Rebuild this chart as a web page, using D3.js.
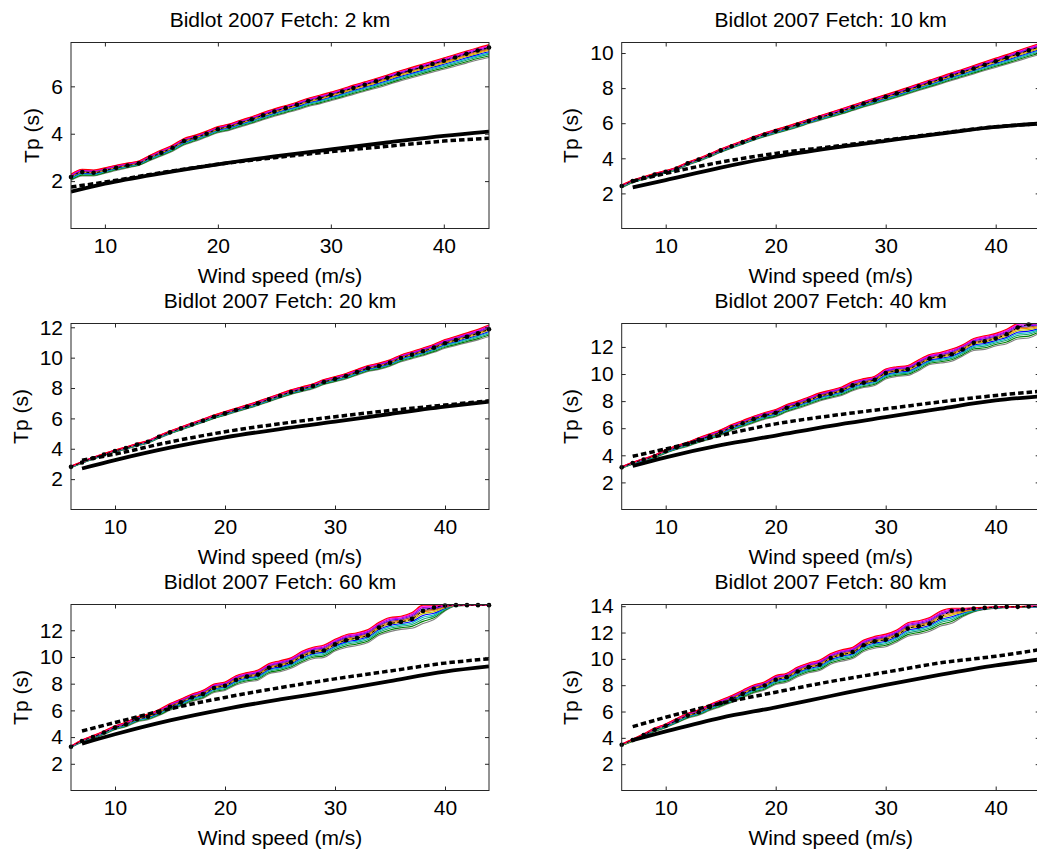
<!DOCTYPE html>
<html><head><meta charset="utf-8">
<script src="https://cdn.jsdelivr.net/npm/d3@7"></script>
<style>
html,body{margin:0;padding:0;background:#fff;}
svg{display:block;font-family:"Liberation Sans",Arial,Helvetica,sans-serif;}
</style></head><body>
<svg id="chart" width="1037" height="852"></svg>
<script>
// ---------------- data ----------------
const fetchKm = [2, 10, 20, 40, 60, 80];
const windFrom7 = [7,8,9,10,11,12,13,14,15,16,17,18,19,20,21,22,23,24,25,26,27,28,29,30,31,32,33,34,35,36,37,38,39,40,41,42,43,44];
const windFrom6 = [6,7,8,9,10,11,12,13,14,15,16,17,18,19,20,21,22,23,24,25,26,27,28,29,30,31,32,33,34,35,36,37,38,39,40,41,42,43,44];
const thickWind = [7,10,15,20,25,30,35,40,44];
const xTicks = [10,20,30,40];
const yMaxes = [7.85, 10.6, 12.25, 13.73, 13.93, 14.13];
const yTicks2km = [2,4,6];
const yTicks10km = [2,4,6,8,10];
const yTicks20km = [2,4,6,8,10,12];
const yTicks40km = [2,4,6,8,10,12];
const yTicks60km = [2,4,6,8,10,12];
const yTicks80km = [2,4,6,8,10,12,14];

// ensemble mean Tp (black dashed line with dots)
const mean2km = [2.17,2.38,2.35,2.45,2.56,2.66,2.75,2.99,3.20,3.41,3.69,3.83,4.00,4.19,4.30,4.46,4.61,4.78,4.94,5.08,5.22,5.38,5.50,5.64,5.78,5.93,6.07,6.21,6.36,6.52,6.66,6.80,6.94,7.08,7.22,7.37,7.51,7.64];
const mean10km = [2.42,2.70,2.89,3.08,3.23,3.42,3.71,3.93,4.18,4.45,4.69,4.92,5.15,5.36,5.55,5.73,5.92,6.13,6.32,6.51,6.70,6.91,7.12,7.31,7.50,7.70,7.90,8.11,8.31,8.51,8.72,8.92,9.12,9.33,9.53,9.73,9.94,10.15,10.35];
const mean20km = [2.81,3.10,3.38,3.62,3.85,4.05,4.27,4.46,4.79,5.08,5.34,5.60,5.85,6.11,6.33,6.55,6.77,6.99,7.25,7.49,7.74,7.93,8.13,8.40,8.59,8.79,9.05,9.30,9.45,9.67,9.98,10.20,10.42,10.66,10.95,11.16,11.38,11.60,11.87];
const mean40km = [3.11,3.43,3.68,3.93,4.30,4.59,4.84,5.14,5.41,5.70,6.07,6.37,6.67,6.94,7.14,7.51,7.75,8.05,8.37,8.54,8.79,9.16,9.36,9.58,10.07,10.22,10.35,10.72,11.14,11.31,11.46,11.81,12.30,12.42,12.62,12.94,13.43,13.66,13.75];
const mean60km = [3.28,3.71,4.01,4.34,4.71,4.96,5.34,5.52,5.85,6.27,6.60,6.97,7.22,7.68,7.85,8.28,8.53,8.68,9.19,9.36,9.61,10.04,10.37,10.49,10.94,11.25,11.42,11.62,12.20,12.50,12.63,12.85,13.45,13.70,13.85,13.88,13.88,13.88,13.88];
const mean80km = [3.48,3.83,4.21,4.62,4.92,5.31,5.69,5.94,6.32,6.63,6.96,7.34,7.72,7.98,8.41,8.61,9.04,9.37,9.55,10.06,10.31,10.52,11.03,11.33,11.46,11.79,12.30,12.48,12.68,13.14,13.65,13.75,13.82,13.87,13.92,13.95,13.95,13.98,13.98];

// ensemble envelope: distance of the top / bottom member from the mean
const hi2km = [0.12,0.12,0.12,0.11,0.11,0.10,0.10,0.10,0.11,0.11,0.11,0.11,0.11,0.11,0.11,0.11,0.11,0.11,0.11,0.11,0.11,0.12,0.12,0.12,0.12,0.12,0.12,0.12,0.12,0.12,0.12,0.12,0.12,0.12,0.12,0.12,0.12,0.12];
const lo2km = [0.15,0.16,0.13,0.12,0.11,0.10,0.09,0.12,0.14,0.15,0.17,0.15,0.14,0.15,0.16,0.17,0.18,0.19,0.20,0.21,0.22,0.23,0.24,0.25,0.26,0.27,0.28,0.29,0.30,0.31,0.32,0.33,0.34,0.36,0.37,0.39,0.40,0.42];
const hi10km = [0.06,0.06,0.06,0.06,0.07,0.07,0.07,0.07,0.08,0.08,0.08,0.08,0.09,0.09,0.09,0.09,0.10,0.10,0.11,0.11,0.12,0.12,0.12,0.13,0.13,0.13,0.14,0.14,0.15,0.15,0.16,0.16,0.17,0.17,0.18,0.18,0.19,0.19,0.20];
const lo10km = [0.10,0.09,0.08,0.08,0.08,0.09,0.09,0.10,0.10,0.11,0.11,0.12,0.12,0.13,0.14,0.14,0.15,0.15,0.16,0.17,0.18,0.19,0.20,0.21,0.22,0.23,0.24,0.25,0.26,0.27,0.28,0.30,0.31,0.33,0.35,0.37,0.39,0.41,0.43];
const hi20km = [0.05,0.05,0.06,0.06,0.07,0.07,0.08,0.08,0.09,0.09,0.10,0.10,0.11,0.11,0.12,0.12,0.12,0.13,0.13,0.14,0.14,0.15,0.15,0.16,0.16,0.17,0.17,0.18,0.19,0.19,0.20,0.21,0.22,0.23,0.24,0.25,0.26,0.27,0.28];
const lo20km = [0.06,0.06,0.07,0.07,0.08,0.08,0.09,0.09,0.10,0.10,0.11,0.11,0.12,0.12,0.13,0.13,0.14,0.14,0.15,0.15,0.16,0.16,0.17,0.17,0.18,0.19,0.20,0.21,0.22,0.23,0.25,0.27,0.29,0.31,0.33,0.36,0.39,0.43,0.47];
const hi40km = [0.05,0.06,0.08,0.10,0.12,0.12,0.14,0.16,0.18,0.18,0.20,0.20,0.22,0.22,0.24,0.24,0.25,0.26,0.24,0.28,0.26,0.28,0.30,0.26,0.30,0.32,0.28,0.34,0.30,0.30,0.38,0.36,0.32,0.40,0.38,0.36,0.30,0.15,0.02];
const lo40km = [0.06,0.08,0.10,0.12,0.14,0.16,0.18,0.20,0.22,0.24,0.24,0.26,0.28,0.28,0.30,0.32,0.30,0.34,0.36,0.32,0.38,0.40,0.36,0.42,0.44,0.40,0.46,0.48,0.44,0.50,0.52,0.48,0.56,0.60,0.55,0.70,0.85,1.00,0.70];
const hi60km = [0.05,0.08,0.10,0.12,0.14,0.16,0.18,0.20,0.22,0.24,0.26,0.26,0.28,0.30,0.28,0.32,0.30,0.34,0.32,0.36,0.34,0.38,0.36,0.40,0.38,0.42,0.40,0.44,0.40,0.46,0.42,0.48,0.43,0.18,0.05,0.02,0.02,0.02,0.02];
const lo60km = [0.06,0.10,0.12,0.14,0.16,0.18,0.20,0.22,0.24,0.26,0.28,0.30,0.32,0.34,0.36,0.38,0.40,0.42,0.44,0.46,0.46,0.48,0.50,0.52,0.50,0.54,0.56,0.54,0.58,0.60,0.56,0.70,0.95,0.90,0.40,0.05,0.02,0.02,0.02];
const hi80km = [0.05,0.08,0.10,0.12,0.14,0.16,0.18,0.20,0.22,0.24,0.26,0.28,0.30,0.28,0.32,0.30,0.34,0.32,0.36,0.34,0.38,0.36,0.40,0.38,0.42,0.40,0.44,0.42,0.46,0.50,0.20,0.10,0.06,0.04,0.03,0.02,0.02,0.02,0.02];
const lo80km = [0.06,0.10,0.12,0.14,0.16,0.18,0.20,0.22,0.24,0.26,0.28,0.30,0.32,0.34,0.36,0.38,0.40,0.42,0.44,0.46,0.48,0.50,0.48,0.52,0.54,0.52,0.58,0.60,0.58,0.65,0.95,0.55,0.25,0.12,0.08,0.05,0.04,0.03,0.03];

// thick black solid and thick black dashed curves
const solid2km = [1.55,1.89,2.33,2.71,3.04,3.34,3.63,3.91,4.09];
const dash2km  = [1.75,1.96,2.36,2.71,2.99,3.24,3.47,3.69,3.81];
const solid10km = [2.34,2.76,3.47,4.09,4.58,5.00,5.41,5.79,5.98];
const dash10km  = [2.70,3.14,3.78,4.28,4.66,5.04,5.43,5.80,5.97];
const solid20km = [2.70,3.25,4.07,4.75,5.30,5.78,6.29,6.77,7.10];
const dash20km  = [3.25,3.65,4.45,5.12,5.65,6.11,6.52,6.88,7.16];
const solid40km = [3.21,3.85,4.75,5.46,6.18,6.81,7.45,8.05,8.35];
const dash40km  = [3.93,4.47,5.47,6.32,6.92,7.43,7.95,8.42,8.72];
const solid60km = [3.51,4.21,5.25,6.10,6.82,7.48,8.20,8.90,9.29];
const dash60km  = [4.46,5.09,6.12,6.97,7.70,8.36,8.95,9.54,9.86];
const solid80km = [3.83,4.49,5.52,6.32,7.18,8.03,8.80,9.50,9.96];
const dash80km  = [4.85,5.56,6.62,7.47,8.28,8.99,9.70,10.20,10.70];

// ensemble member colours and their position across the envelope (0 = bottom, 1 = top)
const memberColors = ["#808080","#008000","#1b9e77","#00bfbf","#0000ff","#bfbf00","#ff8000","#a0522d","#6a00ff","#bf00bf","#ff00ff","#ff0000"];
const memberPos    = [0.0, 0.12, 0.24, 0.34, 0.44, 0.54, 0.63, 0.71, 0.79, 0.87, 0.94, 1.0];

// ---------------- build panels ----------------
const panels = [
  {km:fetchKm[0], wind:windFrom7, mean:mean2km,  hi:hi2km,  lo:lo2km,  solid:solid2km,  dash:dash2km,  yMax:yMaxes[0], yTicks:yTicks2km},
  {km:fetchKm[1], wind:windFrom6, mean:mean10km, hi:hi10km, lo:lo10km, solid:solid10km, dash:dash10km, yMax:yMaxes[1], yTicks:yTicks10km},
  {km:fetchKm[2], wind:windFrom6, mean:mean20km, hi:hi20km, lo:lo20km, solid:solid20km, dash:dash20km, yMax:yMaxes[2], yTicks:yTicks20km},
  {km:fetchKm[3], wind:windFrom6, mean:mean40km, hi:hi40km, lo:lo40km, solid:solid40km, dash:dash40km, yMax:yMaxes[3], yTicks:yTicks40km},
  {km:fetchKm[4], wind:windFrom6, mean:mean60km, hi:hi60km, lo:lo60km, solid:solid60km, dash:dash60km, yMax:yMaxes[4], yTicks:yTicks60km},
  {km:fetchKm[5], wind:windFrom6, mean:mean80km, hi:hi80km, lo:lo80km, solid:solid80km, dash:dash80km, yMax:yMaxes[5], yTicks:yTicks80km}
];

const svg = d3.select("#chart");
const colLeft = [71, 621.7];
const rowTop = [42.5, 323.5, 604.5];
const W = 418, H = 186;
const FS = "21px";
const axisColor = "#262626";

panels.forEach((p, i) => {
  const col = i % 2, row = Math.floor(i / 2);
  const g = svg.append("g").attr("transform", `translate(${colLeft[col]},${rowTop[row]})`);
  const x = d3.scaleLinear().domain([p.wind[0], 44]).range([0, W]);
  const y = d3.scaleLinear().domain([0, p.yMax]).range([H, 0]);

  const clipId = "clip" + i;
  g.append("clipPath").attr("id", clipId).append("rect").attr("width", W).attr("height", H);
  const plot = g.append("g").attr("clip-path", `url(#${clipId})`);

  const line = d3.line().x(d => x(d[0])).y(d => y(d[1])).curve(d3.curveMonotoneX);

  // ensemble members
  memberColors.forEach((c, k) => {
    const pts = p.wind.map((w, j) => [w, p.mean[j] - p.lo[j] + memberPos[k] * (p.hi[j] + p.lo[j])]);
    plot.append("path").attr("d", line(pts)).attr("fill", "none")
      .attr("stroke", c).attr("stroke-width", 1.1);
  });

  // ensemble mean: black dashed with dots
  const meanPts = p.wind.map((w, j) => [w, p.mean[j]]);
  plot.append("path").attr("d", line(meanPts)).attr("fill", "none")
    .attr("stroke", "#000").attr("stroke-width", 1).attr("stroke-dasharray", "3,2.5");
  g.append("g").selectAll("circle").data(meanPts).join("circle")
    .attr("cx", d => x(d[0])).attr("cy", d => y(d[1])).attr("r", 2.3).attr("fill", "#000");

  // thick solid and thick dashed black curves
  const solidPts = thickWind.map((w, j) => [w, p.solid[j]]);
  const dashPts = thickWind.map((w, j) => [w, p.dash[j]]);
  plot.append("path").attr("d", line(solidPts)).attr("fill", "none")
    .attr("stroke", "#000").attr("stroke-width", 3.8);
  plot.append("path").attr("d", line(dashPts)).attr("fill", "none")
    .attr("stroke", "#000").attr("stroke-width", 3.5).attr("stroke-dasharray", "5.5,3");

  // axes (ticks inward on all four sides)
  const styleAxis = a => {
    a.select(".domain").remove();
    a.selectAll(".tick line").attr("stroke", axisColor);
    a.selectAll("text").attr("fill", "#000").style("font-size", FS)
      .style("font-family", '"Liberation Sans",Arial,Helvetica,sans-serif');
  };
  const bx = g.append("g").attr("transform", `translate(0,${H})`)
    .call(d3.axisBottom(x).tickValues(xTicks).tickSizeInner(-4).tickSizeOuter(0).tickPadding(10));
  styleAxis(bx);
  const tx = g.append("g")
    .call(d3.axisTop(x).tickValues(xTicks).tickSizeInner(-4).tickSizeOuter(0).tickFormat(""));
  styleAxis(tx);
  const ly = g.append("g")
    .call(d3.axisLeft(y).tickValues(p.yTicks).tickSizeInner(-4).tickSizeOuter(0).tickPadding(8));
  styleAxis(ly);
  const ry = g.append("g").attr("transform", `translate(${W},0)`)
    .call(d3.axisRight(y).tickValues(p.yTicks).tickSizeInner(-4).tickSizeOuter(0).tickFormat(""));
  styleAxis(ry);

  g.append("rect").attr("width", W).attr("height", H).attr("fill", "none")
    .attr("stroke", axisColor).attr("stroke-width", 1);

  // labels
  let maxW = 0;
  ly.selectAll("text").each(function () { maxW = Math.max(maxW, this.getComputedTextLength()); });
  g.append("text").attr("x", W / 2).attr("y", -15.5).attr("text-anchor", "middle")
    .style("font-size", FS).attr("fill", "#000").text(`Bidlot 2007 Fetch: ${p.km} km`);
  g.append("text").attr("x", W / 2).attr("y", H + 54).attr("text-anchor", "middle")
    .style("font-size", FS).attr("fill", "#000").text("Wind speed (m/s)");
  g.append("text").attr("transform", `translate(${-8 - maxW - 12},${H / 2}) rotate(-90)`)
    .attr("text-anchor", "middle").style("font-size", FS).attr("fill", "#000").text("Tp (s)");
});
</script>
</body></html>
